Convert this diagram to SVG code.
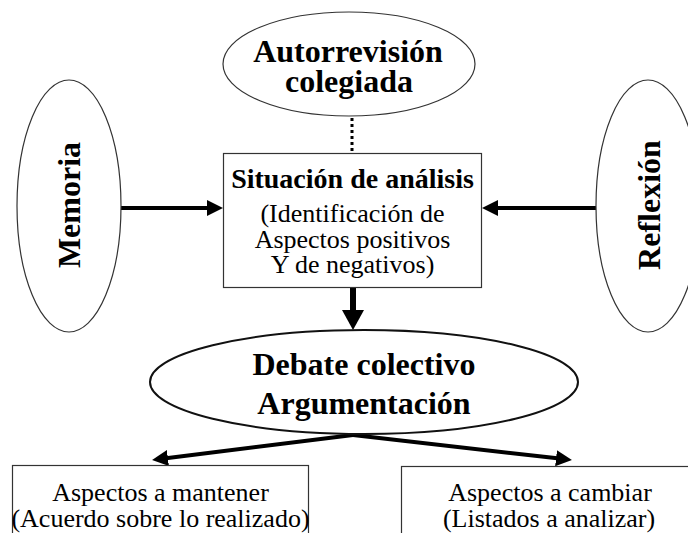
<svg xmlns="http://www.w3.org/2000/svg" width="688" height="533" viewBox="0 0 688 533">
<style>
  .bg { fill: #ffffff; }
  .shape { fill: #ffffff; stroke: #333333; stroke-width: 1.2; }
  .thick { fill: #ffffff; stroke: #111111; stroke-width: 2; }
  .b { font-family: "Liberation Serif", "Times New Roman", serif; font-weight: bold; fill: #000; text-anchor: middle; }
  .r { font-family: "Liberation Serif", "Times New Roman", serif; fill: #000; text-anchor: middle; }
  .conn { stroke: #000; fill: none; }
</style>
<defs>
  <marker id="ah" markerUnits="userSpaceOnUse" markerWidth="16" markerHeight="16" refX="8" refY="8" orient="auto">
    <path d="M0,0 L16,8 L0,16 z" fill="#000"/>
  </marker>
  <marker id="ahBig" markerUnits="userSpaceOnUse" markerWidth="20" markerHeight="22" refX="10" refY="11" orient="auto">
    <path d="M0,0 L20,11 L0,22 z" fill="#000"/>
  </marker>
</defs>
<rect class="bg" x="0" y="0" width="688" height="533"/>

<g id="connectors">
  <line class="conn" x1="352" y1="118" x2="352" y2="153" stroke-width="3" stroke-dasharray="3 3"/>
  <line class="conn" x1="121" y1="208" x2="215" y2="208" stroke-width="4" marker-end="url(#ah)"/>
  <line class="conn" x1="596" y1="208" x2="490" y2="208" stroke-width="4" marker-end="url(#ah)"/>
  <line class="conn" x1="353" y1="288" x2="353" y2="320" stroke-width="6" marker-end="url(#ahBig)"/>
  <line class="conn" x1="353" y1="435" x2="160" y2="459" stroke-width="4" marker-end="url(#ah)"/>
  <line class="conn" x1="353" y1="435" x2="564" y2="459.1" stroke-width="4" marker-end="url(#ah)"/>
</g>

<g id="autorrevision">
  <ellipse class="shape" cx="349" cy="64" rx="126" ry="52"/>
  <text class="b" x="348" y="62" font-size="32">Autorrevisión</text>
  <text class="b" x="349" y="92" font-size="32">colegiada</text>
</g>

<g id="memoria">
  <ellipse class="shape" cx="69" cy="206" rx="52" ry="126"/>
  <text class="b" font-size="32" transform="translate(80,205) rotate(-90)">Memoria</text>
</g>

<g id="reflexion">
  <ellipse class="shape" cx="648" cy="206" rx="52" ry="126"/>
  <text class="b" font-size="32" transform="translate(660,205) rotate(-90)">Reflexión</text>
</g>

<g id="situacion">
  <rect class="shape" x="223.5" y="153.5" width="258" height="134"/>
  <text class="b" x="352.5" y="188" font-size="28">Situación de análisis</text>
  <text class="r" x="352.5" y="222" font-size="26">(Identificación de</text>
  <text class="r" x="352.5" y="247.5" font-size="26">Aspectos positivos</text>
  <text class="r" x="352.5" y="273" font-size="26">Y de negativos)</text>
</g>

<g id="debate">
  <ellipse class="thick" cx="364" cy="382" rx="214" ry="52"/>
  <text class="b" x="364" y="375" font-size="32">Debate colectivo</text>
  <text class="b" x="364" y="414" font-size="32">Argumentación</text>
</g>

<g id="mantener">
  <rect class="shape" x="12.5" y="465.5" width="296" height="80"/>
  <text class="r" x="160.5" y="501" font-size="26">Aspectos a mantener</text>
  <text class="r" x="160.5" y="527" font-size="26">(Acuerdo sobre lo realizado)</text>
</g>

<g id="cambiar">
  <rect class="shape" x="401.5" y="466.5" width="300" height="80"/>
  <text class="r" x="550" y="501" font-size="26">Aspectos a cambiar</text>
  <text class="r" x="549" y="527" font-size="26">(Listados a analizar)</text>
</g>
</svg>
